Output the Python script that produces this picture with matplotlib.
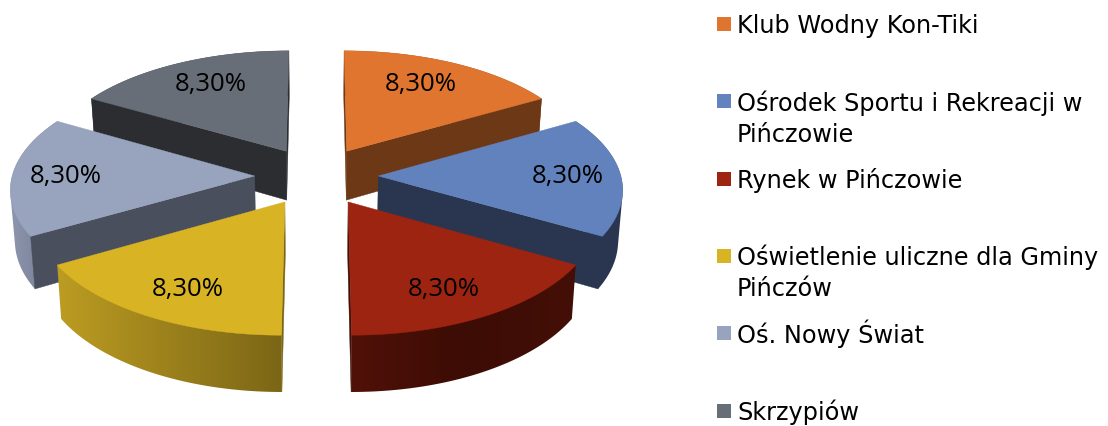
import numpy as np
import matplotlib
matplotlib.use("Agg")
import matplotlib.pyplot as plt
from matplotlib.colors import LinearSegmentedColormap
from matplotlib.patches import Rectangle, Polygon

# Data
categories = ["Klub Wodny Kon-Tiki", "Ośrodek Sportu i Rekreacji w\nPińczowie", "Rynek w Pińczowie",
              "Oświetlenie uliczne dla Gminy\nPińczów", "Oś. Nowy Świat", "Skrzypiów"]
values = [8.30, 8.30, 8.30, 8.30, 8.30, 8.30]
value_labels = ["8,30%"] * 6

top_colors = ["#E0752F", "#6282BD", "#9C2410", "#D8B324", "#98A3BD", "#686E77"]
wall_colors = ["#6C3815", "#2A3650", "#420E06", "#7B6616", "#4A4F5E", "#2B2D31"]
rim_stops = [["#6C3815", "#6C3815"], ["#2A3650", "#2A3650"], ["#501108", "#3C0C05", "#440F07"],
             ["#BC9C22", "#7B6616"], ["#8E97AF", "#6F768C"], ["#2B2D31", "#2B2D31"]]
legend_colors = ["#E0752F", "#6383BE", "#9C2410", "#D8B324", "#98A3BD", "#686E77"]

# Projection of the exploded 3D pie
CX, CY = 316.5, 177.0
AX, AY = 242.5, 114.8
PERSP = 0.098
EXPLODE = 0.255
DEPTH = 50.0
SHRINK = 0.985
LABEL_RX = [0.68, 0.78, 0.70, 0.715, 0.78, 0.69]
LABEL_RY = [0.75, 0.75, 0.78, 0.78, 0.75, 0.75]


def project(x, y, low=False):
    s = 1.0 / (1.0 + PERSP * y)
    sx = AX * x * s
    sy = -AY * y * s
    if low:
        return CX + sx * SHRINK, CY + sy + DEPTH * s
    return CX + sx, CY + sy


def convex_hull(points):
    pts = sorted(set(map(tuple, points)))

    def half(seq):
        out = []
        for p in seq:
            while len(out) >= 2 and ((out[-1][0] - out[-2][0]) * (p[1] - out[-2][1])
                                     - (out[-1][1] - out[-2][1]) * (p[0] - out[-2][0])) <= 0:
                out.pop()
            out.append(p)
        return out[:-1]

    return np.array(half(pts) + half(pts[::-1]))


fig = plt.figure(figsize=(11.08, 4.27), dpi=100)
ax = fig.add_axes([0, 0, 1, 1])
ax.axis("off")

fractions = np.array(values) / np.sum(values)
edges = np.pi / 2 - 2 * np.pi * np.concatenate([[0], np.cumsum(fractions)])


def slice_geometry(i):
    mid = (edges[i] + edges[i + 1]) / 2
    ox, oy = EXPLODE * np.cos(mid), EXPLODE * np.sin(mid)
    th = np.linspace(edges[i], edges[i + 1], 80)
    return ox, oy, ox + np.cos(th), oy + np.sin(th), mid


def draw_slice(i, z):
    ox, oy, arc_x, arc_y, _ = slice_geometry(i)
    tx, ty = project(arc_x, arc_y)
    bx, by = project(arc_x, arc_y, low=True)
    ptx, pty = project(ox, oy)
    pbx, pby = project(ox, oy, low=True)

    # outer rim: horizontal gradient clipped to the silhouette of the two arcs
    verts = convex_hull(np.column_stack([np.r_[tx, bx], np.r_[ty, by]]))
    clip = Polygon(verts, closed=True, transform=ax.transData, facecolor="none", edgecolor="none")
    ax.add_patch(clip)
    cmap = LinearSegmentedColormap.from_list("rim", rim_stops[i])
    grad = np.linspace(0, 1, 256).reshape(1, -1)
    im = ax.imshow(grad, cmap=cmap, aspect="auto", zorder=z, interpolation="bilinear",
                   extent=(verts[:, 0].min(), verts[:, 0].max(), verts[:, 1].max(), verts[:, 1].min()))
    im.set_clip_path(clip)

    # radial walls that face the viewer
    facing = [np.cos(edges[i]) <= 1e-9, -np.cos(edges[i + 1]) <= 1e-9]
    for k, vis in zip((0, -1), facing):
        if vis:
            ax.fill([ptx, tx[k], bx[k], pbx], [pty, ty[k], by[k], pby],
                    color=wall_colors[i], lw=0.3, zorder=z + 0.1)
    ax.fill(np.r_[ptx, tx], np.r_[pty, ty], color=top_colors[i], lw=0.3, zorder=z + 0.2)


draw_order = [0, 5, 1, 4, 2, 3]
for z, i in enumerate(draw_order):
    draw_slice(i, z + 1)

for i, lab in enumerate(value_labels):
    ox, oy, _, _, mid = slice_geometry(i)
    lx, ly = project(ox + LABEL_RX[i] * np.cos(mid), oy + LABEL_RY[i] * np.sin(mid))
    ax.text(lx, ly, lab, ha="center", va="center", fontsize=18.5,
            family=["Liberation Sans Narrow", "Open Sans"], color="black", zorder=20)

# Legend
LEG_Y0, LEG_STEP = 25.0, 77.3
for i, (name, col) in enumerate(zip(categories, legend_colors)):
    yc = LEG_Y0 + LEG_STEP * i
    ax.add_patch(Rectangle((717, yc - 7), 14, 14, facecolor=col, edgecolor="none", zorder=20))
    for j, line in enumerate(name.split("\n")):
        ax.text(737, yc + 8.5 + 31 * j, line, ha="left", va="baseline", fontsize=17.3,
                family="DejaVu Sans", color="black", zorder=20)

ax.set_xlim(0, 1108)
ax.set_ylim(427, 0)
fig.savefig("out.png", dpi=100, facecolor="white")
